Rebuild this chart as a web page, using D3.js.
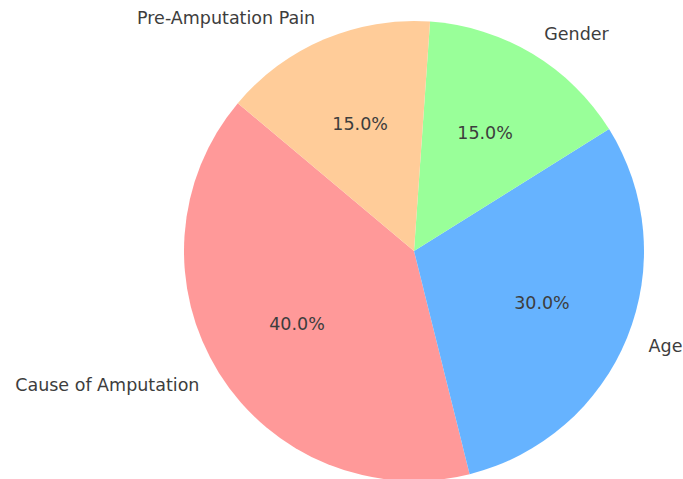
<!DOCTYPE html>
<html>
<head>
<meta charset="utf-8">
<script src="https://cdn.jsdelivr.net/npm/d3@7"></script>
<style>
    body { margin: 0; background: #fff; }
    text { font-family: "DejaVu Sans", sans-serif; fill: #3d3d3d; }
</style>
</head>
<body>
<svg id="chart" width="683" height="479"></svg>
<script>
// Data
var labels = ["Cause of Amputation", "Age", "Gender", "Pre-Amputation Pain"];
var shares = [40, 30, 15, 15];
var colors = ["#ff9999", "#66b3ff", "#99ff99", "#ffcc99"];

var cx = 414, cy = 251, radius = 230;
var startDeg = 140; // matplotlib startangle, counter-clockwise

var svg = d3.select("#chart");
var g = svg.append("g").attr("transform", "translate(" + cx + "," + cy + ")");

// d3 angles go clockwise from 12 o'clock; flip to counter-clockwise
var a0 = (90 - startDeg) * Math.PI / 180;
var pie = d3.pie()
    .sort(null)
    .value(function(d) { return d; })
    .startAngle(a0)
    .endAngle(a0 - 2 * Math.PI);

var arcs = pie(shares);
var arc = d3.arc().innerRadius(0).outerRadius(radius);

g.selectAll("path.slice")
    .data(arcs)
    .enter()
    .append("path")
    .attr("class", "slice")
    .attr("d", arc)
    .attr("fill", function(d, i) { return colors[i]; });

function midPoint(d, dist) {
    var a = (d.startAngle + d.endAngle) / 2;
    return [Math.sin(a) * dist, -Math.cos(a) * dist];
}

// category labels
g.selectAll("text.label")
    .data(arcs)
    .enter()
    .append("text")
    .attr("class", "label")
    .each(function(d, i) {
        var p = midPoint(d, radius * 1.1);
        d3.select(this)
            .attr("x", p[0])
            .attr("y", p[1])
            .attr("dy", "0.35em")
            .attr("text-anchor", p[0] > 0 ? "start" : "end")
            .style("font-size", "17.5px")
            .text(labels[i]);
    });

// percentages
g.selectAll("text.pct")
    .data(arcs)
    .enter()
    .append("text")
    .attr("class", "pct")
    .each(function(d, i) {
        var p = midPoint(d, radius * 0.6);
        d3.select(this)
            .attr("x", p[0])
            .attr("y", p[1])
            .attr("dy", "0.35em")
            .attr("text-anchor", "middle")
            .style("font-size", "17.5px")
            .text(shares[i].toFixed(1) + "%");
    });
</script>
</body>
</html>
